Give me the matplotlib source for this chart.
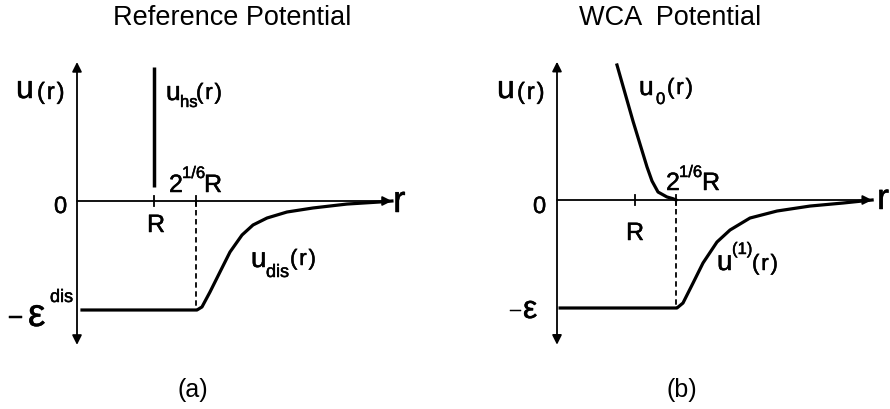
import matplotlib
matplotlib.use("Agg")
import matplotlib.pyplot as plt
import matplotlib.patheffects as pe

W, H = 890, 409
FONT = ["Liberation Sans", "DejaVu Sans"]

# schematic potentials, r in units of R and u in units of epsilon
r_tick = 1.0

# (a) reference system
a_hs_r = [1.0, 1.0]
a_hs_u = [0.13, 1.23]
a_cut = 1.545
a_flat_r = [0.065, 1.545]
a_dis_r = [1.545, 1.558, 1.623, 1.727, 1.857, 1.987, 2.143, 2.286, 2.468,
           2.727, 3.065, 3.506, 3.935, 4.09]
a_dis_u = [-1.0, -1.0, -0.972, -0.835, -0.651, -0.468, -0.312, -0.220,
           -0.156, -0.101, -0.064, -0.028, -0.009, 0.0]
a_rmax, a_utop, a_ubot = 4.09, 1.275, -1.32

# (b) WCA split
b_cut = 1.526
b_rep_r = [0.769, 0.974, 1.154, 1.218, 1.295, 1.410, 1.487, 1.526]
b_rep_u = [1.25, 0.731, 0.306, 0.176, 0.074, 0.028, 0.012, 0.0]
b_flat_r = [0.04, 1.526]
b_att_r = [1.526, 1.538, 1.615, 1.744, 1.872, 2.051, 2.218, 2.474, 2.821,
           3.244, 3.667, 4.04]
b_att_u = [-1.0, -1.0, -0.954, -0.769, -0.583, -0.389, -0.278, -0.167,
           -0.102, -0.056, -0.028, 0.0]
b_rmax, b_utop, b_ubot = 4.04, 1.28, -1.34

fig = plt.figure(figsize=(W / 100, H / 100), dpi=100)
# slightly heavier glyphs for the labels
thick = [pe.withStroke(linewidth=0.35, foreground="k")]
R_ARG = "(\u200ar\u200a)"


def panel(left, right, ox, oy, ux, uy):
    # axes spanning pixel columns left..right, origin (ox, oy) in pixels
    ax = fig.add_axes([left / W, 0, (right - left) / W, 1])
    ax.set_xlim((left - ox) / ux, (right - ox) / ux)
    ax.set_ylim((oy - H) / uy, oy / uy)
    ax.axis("off")
    return ax


def axes_arrows(ax, rmax, utop, ubot):
    arrow = dict(color="k", lw=1.3, mutation_scale=14, shrinkA=0, shrinkB=0)
    ax.annotate("", xy=(rmax, 0), xytext=(0, 0),
                arrowprops=dict(arrowstyle="-|>", **arrow))
    ax.annotate("", xy=(0, utop), xytext=(0, ubot),
                arrowprops=dict(arrowstyle="<|-|>", **arrow))


def ticks(ax, xs):
    for x in xs:
        ax.plot([x, x], [-0.045, 0.045], color="k", lw=1.3)


def put(x, y, s, size, **kw):
    fig.text(x / W, 1 - y / H, s, fontsize=size, family=FONT,
             ha="left", va="baseline", path_effects=thick, **kw)


# ---------------- panel (a) ----------------
ax = panel(0, 445, 77, 201, 77, 109)
axes_arrows(ax, a_rmax, a_utop, a_ubot)
ticks(ax, [r_tick, a_cut])
ax.plot(a_hs_r, a_hs_u, color="k", lw=2.5, solid_capstyle="butt")
ax.plot(a_flat_r + a_dis_r, [-1.0, -1.0] + a_dis_u, color="k", lw=2.3,
        solid_joinstyle="round")
ax.plot([a_cut, a_cut], [0, -1], color="k", lw=1.3, ls=(0, (3, 2)))

put(16, 98, "u", 23)
put(37, 99, R_ARG, 17)
put(54, 213, "0", 17)
put(147, 232, "R", 18)
put(169, 192, "2", 18)
put(182, 178, "1/6", 12)
put(204, 192, "R", 18)
put(166, 100, "u", 19)
put(180, 107, "hs", 12)
put(196, 99, R_ARG, 16)
put(251, 267, "u", 20)
put(266, 277, "dis", 13)
put(290, 265, R_ARG, 16)
put(8, 326, "\u2212", 19)
put(28, 326, "\u03b5", 28)
put(50, 302, "dis", 13)
put(393, 212, "r", 27)
fig.text(232 / W, 1 - 18 / H, "Reference Potential", fontsize=19.5,
         family=FONT, ha="center", va="center")
fig.text(193 / W, 1 - 390 / H, "(a)", fontsize=18, family=FONT,
         ha="center", va="center")

# ---------------- panel (b) ----------------
ax = panel(445, 890, 557, 200, 78, 108)
axes_arrows(ax, b_rmax, b_utop, b_ubot)
ticks(ax, [r_tick, b_cut])
ax.plot(b_rep_r, b_rep_u, color="k", lw=2.3, solid_joinstyle="round")
ax.plot(b_flat_r + b_att_r, [-1.0, -1.0] + b_att_u, color="k", lw=2.3,
        solid_joinstyle="round")
ax.plot([b_cut, b_cut], [0, -1], color="k", lw=1.3, ls=(0, (3, 2)))

put(497, 98, "u", 23)
put(517, 99, R_ARG, 17)
put(533, 213, "0", 17)
put(626, 240, "R", 18)
put(666, 190, "2", 18)
put(679, 177, "1/6", 12)
put(702, 190, "R", 18)
put(639, 95, "u", 19)
put(656, 104, "0", 12)
put(667, 94, R_ARG, 16)
put(717, 270, "u", 20)
put(732, 254, "(1)", 12)
put(752, 270, R_ARG, 16)
put(509, 318, "\u2212", 16)
put(523, 318, "\u03b5", 23)
put(877, 209, "r", 26)
fig.text(670 / W, 1 - 18 / H, "WCA  Potential", fontsize=19.5,
         family=FONT, ha="center", va="center")
fig.text(682 / W, 1 - 390 / H, "(b)", fontsize=18, family=FONT,
         ha="center", va="center")

fig.savefig("out.png", dpi=100, facecolor="white")
